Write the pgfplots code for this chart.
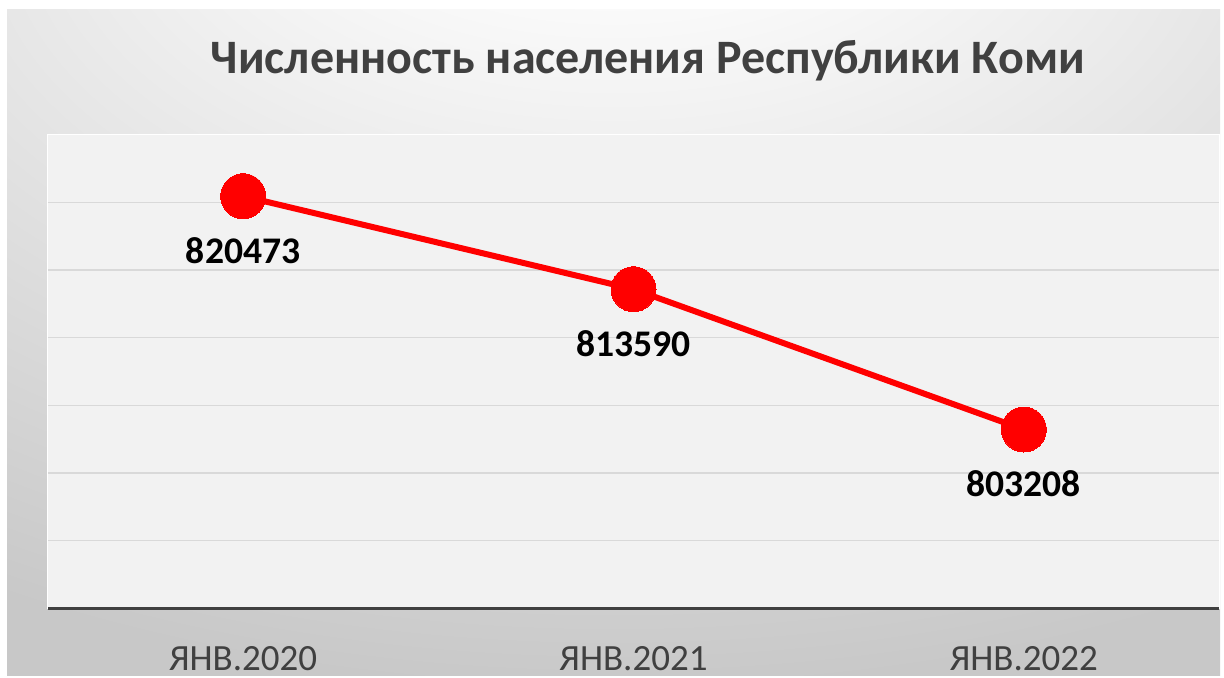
\documentclass[border=0pt]{standalone}
\usepackage{pgfplots}
\pgfplotsset{compat=1.18}
\usepackage{fontspec}
\setmainfont{Carlito}
\definecolor{txtgray}{HTML}{404040}
\definecolor{plotbg}{HTML}{F2F2F2}
\definecolor{gridc}{HTML}{D9D9D9}
\definecolor{edgegray}{HTML}{C8C8C8}
\pgfdeclareradialshading{bgshade}{\pgfpoint{0bp}{42bp}}{%
  color(0bp)=(white); color(8bp)=(white); color(48bp)=(edgegray); color(100bp)=(edgegray)}

\begin{document}
\begin{tikzpicture}
% page and background box
\fill[white] (0,0) rectangle (612pt,337.5pt);
\shade[shading=bgshade] (3.5pt,0) rectangle (610pt,332.5pt);

\node[font=\bfseries\fontsize{24}{28}\selectfont, text=txtgray] at (324pt,307pt)
  {Численность населения Республики Коми};

\begin{axis}[
    at={(24pt,33.5pt)}, anchor=south west,
    scale only axis,
    width=585.5pt, height=236.5pt,
    xmin=-0.5, xmax=2.5,
    ymin=790000, ymax=825000,
    scaled y ticks=false,
    xtick={0,1,2},
    xticklabels={ЯНВ.2020, ЯНВ.2021, ЯНВ.2022},
    xticklabel style={font=\fontsize{18.5}{20}\selectfont, text=txtgray, yshift=-15.5pt},
    ytick={795000,800000,805000,810000,815000,820000},
    yticklabels={},
    ymajorgrids,
    grid style={gridc, line width=0.75pt},
    major tick length=0,
    axis x line*=bottom,
    axis y line*=left,
    x axis line style={txtgray, line width=1.5pt},
    y axis line style={draw=none},
    axis background/.style={fill=plotbg, draw=white, line width=0.5pt},
    clip=false,
    point meta=explicit symbolic,
    nodes near coords,
    every node near coord/.append style={font=\bfseries\fontsize{18.8}{20}\selectfont,
        text=black, anchor=center, yshift=-27pt},
]
\addplot[color=red, line width=3pt, mark=*, mark size=11.25pt,
    mark options={fill=red, draw=red, line width=0pt}] coordinates {
    (0,820473) [820473]
    (1,813590) [813590]
    (2,803208) [803208]
};
\end{axis}
\end{tikzpicture}
\end{document}
